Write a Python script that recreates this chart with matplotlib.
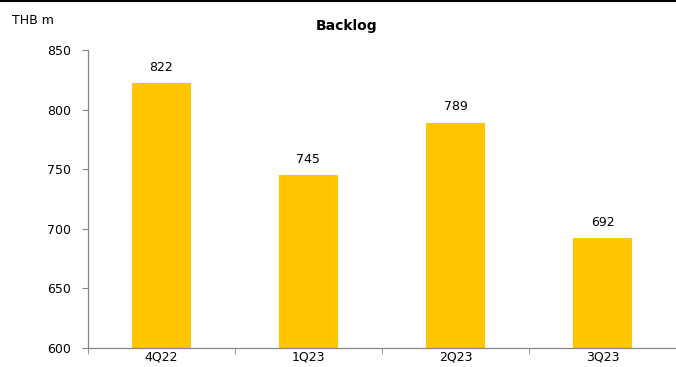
import matplotlib.pyplot as plt
from matplotlib.lines import Line2D
import numpy as np

quarters = ["4Q22", "1Q23", "2Q23", "3Q23"]
backlog = [822, 745, 789, 692]

GOLD = "#FFC600"
AXIS = "#868686"

fig = plt.figure(figsize=(6.76, 3.67), dpi=100)
ax = fig.add_axes([0.130, 0.052, 0.870, 0.812])

x = np.arange(len(quarters))
bars = ax.bar(x, backlog, width=0.4, color=GOLD, zorder=2)
for bar, val in zip(bars, backlog):
    ax.text(bar.get_x() + bar.get_width() / 2, val + 8, f"{val}",
            ha="center", va="bottom", fontsize=9, color="black")

ax.set_xlim(-0.5, len(quarters) - 0.5)
ax.set_ylim(600, 850)
ax.set_yticks(np.arange(600, 851, 50))
ax.set_xticks(x, quarters)
ax.set_xticks(np.arange(-0.5, len(quarters)), minor=True)
ax.tick_params(axis="x", which="major", length=0, pad=2, labelsize=9)
ax.tick_params(axis="x", which="minor", length=4, color=AXIS, direction="out")
ax.tick_params(axis="y", length=4, color=AXIS, labelsize=9, pad=8)

for side in ("top", "right"):
    ax.spines[side].set_visible(False)
for side in ("left", "bottom"):
    ax.spines[side].set_color(AXIS)
    ax.spines[side].set_linewidth(0.9)

fig.text(0.512, 0.93, "Backlog", ha="center", va="center",
         fontsize=10, fontweight="bold")
fig.text(0.018, 0.945, "THB m", ha="left", va="center", fontsize=9)
fig.add_artist(Line2D([0, 1], [0.998, 0.998], color="black", linewidth=1.5))

fig.savefig("out.png", dpi=100)
